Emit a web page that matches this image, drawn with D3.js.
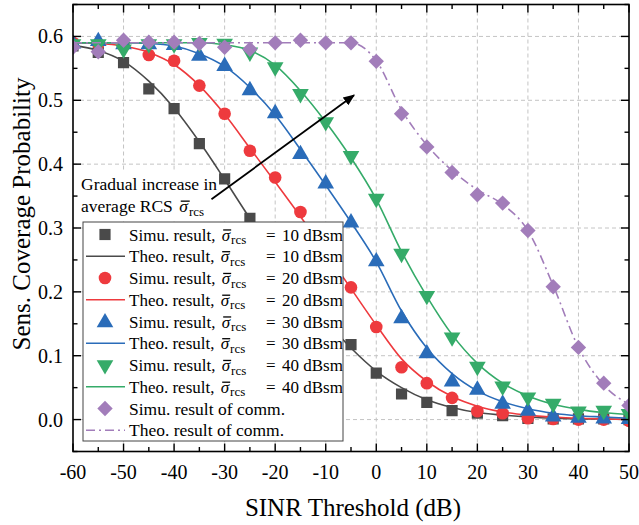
<!DOCTYPE html>
<html>
<head>
<meta charset="utf-8">
<script src="https://cdn.jsdelivr.net/npm/d3@7"></script>
<style>
  html, body { margin: 0; padding: 0; background: #fff; }
  svg { display: block; }
</style>
</head>
<body>
<svg id="chart" width="639" height="525" font-family="'Liberation Serif', 'Times New Roman', Times, 'DejaVu Serif', serif"></svg>
<script>
// ---------------- data ----------------
const thresholds = [-60,-55,-50,-45,-40,-35,-30,-25,-20,-15,-10,-5,0,5,10,15,20,25,30,35,40,45,50];

const simRcs10 = [0.585,0.575,0.559,0.518,0.487,0.432,0.377,0.315,0.255,0.205,0.155,0.1175,0.0726,0.040,0.027,0.014,0.010,0.006,0.002,0.001,0.001,0.001,0.000];
const theoRcs10 = [0.586,0.578,0.561,0.530,0.488,0.435,0.376,0.315,0.257,0.203,0.155,0.112,0.076,0.050,0.031,0.019,0.011,0.007,0.004,0.002,0.001,0.001,0.000];

const simRcs20 = [0.590,0.588,0.585,0.571,0.562,0.523,0.479,0.421,0.379,0.325,0.262,0.207,0.145,0.082,0.057,0.034,0.013,0.010,0.002,0.001,0.000,0.000,-0.002];
const theoRcs20 = [0.590,0.589,0.585,0.575,0.556,0.523,0.478,0.425,0.372,0.318,0.262,0.205,0.148,0.095,0.060,0.036,0.021,0.012,0.007,0.004,0.002,0.001,0.000];

const simRcs30 = [0.590,0.594,0.589,0.589,0.588,0.571,0.555,0.517,0.481,0.417,0.371,0.310,0.249,0.160,0.105,0.061,0.048,0.026,0.015,0.006,0.004,0.003,0.002];
const theoRcs30 = [0.590,0.590,0.590,0.589,0.585,0.573,0.553,0.520,0.477,0.423,0.367,0.309,0.247,0.170,0.112,0.072,0.045,0.028,0.017,0.010,0.006,0.004,0.002];

const simRcs40 = [0.588,0.588,0.580,0.588,0.588,0.590,0.589,0.575,0.552,0.510,0.466,0.413,0.346,0.260,0.194,0.129,0.083,0.052,0.035,0.025,0.013,0.014,0.009];
const theoRcs40 = [0.590,0.590,0.590,0.590,0.590,0.590,0.587,0.578,0.555,0.515,0.466,0.410,0.345,0.263,0.193,0.133,0.088,0.057,0.037,0.024,0.016,0.011,0.008];

const simComm = [0.583,0.576,0.594,0.591,0.591,0.589,0.583,0.580,0.590,0.594,0.590,0.590,0.561,0.479,0.427,0.387,0.352,0.339,0.296,0.208,0.113,0.057,0.022];
const theoComm = [0.590,0.590,0.590,0.590,0.590,0.590,0.590,0.590,0.590,0.590,0.590,0.590,0.562,0.485,0.430,0.390,0.360,0.337,0.296,0.210,0.113,0.054,0.024];

const xTicks = [-60,-50,-40,-30,-20,-10,0,10,20,30,40,50];
const yTicks = [0.0,0.1,0.2,0.3,0.4,0.5,0.6];
const rcsLabels = ["10","20","30","40"];

const xLabel = "SINR Threshold (dB)";
const yLabel = "Sens. Coverage Probability";
const annotLines = ["Gradual increase in", "average RCS "];
// arrow in data coordinates [x, y]
const arrowFrom = [-32.6, 0.345];
const arrowTo = [-4.4, 0.508];

// ---------------- layout ----------------
const svg = d3.select("#chart");
const M = {left: 73, top: 4.5, right: 10, bottom: 73.5};
const W = 639 - M.left - M.right;   // 556
const H = 525 - M.top - M.bottom;   // 447

const x = d3.scaleLinear().domain([-60, 50]).range([M.left, M.left + W]);
const y = d3.scaleLinear().domain([-0.05, 0.65]).range([M.top + H, M.top]);

const colors = {
  k: "#4a4a4a", r: "#ee3a3e", b: "#2a6cb9", g: "#35ab69", p: "#a27dba"
};

// grid
const grid = svg.append("g");
grid.selectAll(".gx").data(xTicks.slice(1, -1)).join("line")
  .attr("x1", d => x(d)).attr("x2", d => x(d))
  .attr("y1", M.top).attr("y2", M.top + H)
  .attr("stroke", "#c4c4c4").attr("stroke-width", 1).attr("stroke-dasharray", "4,3");
grid.selectAll(".gy").data(yTicks).join("line")
  .attr("y1", d => y(d)).attr("y2", d => y(d))
  .attr("x1", M.left).attr("x2", M.left + W)
  .attr("stroke", "#c4c4c4").attr("stroke-width", 1).attr("stroke-dasharray", "4,3");

const bars = [];
function sigmaRcs(textSel, fs) {
  textSel.append("tspan").attr("font-style", "italic").attr("class", "sig").attr("dx", 2).text("σ");
  textSel.append("tspan").attr("font-size", Math.round(fs * 0.74)).attr("dx", 1).attr("dy", 3.5).text("rcs");
  bars.push({t: textSel, fs});
}

// annotation background + text
const annot = svg.append("g");
annot.append("rect").attr("x", 77).attr("y", 172).attr("width", 153).attr("height", 49).attr("fill", "#fff");
annot.append("text").attr("x", 81).attr("y", 190).attr("font-size", 17.5).text(annotLines[0]);
const t2 = annot.append("text").attr("x", 81).attr("y", 212).attr("font-size", 17.5);
t2.append("tspan").text(annotLines[1]);
sigmaRcs(t2, 17.5);

// series
const series = [
  {sim: simRcs10, theo: theoRcs10, c: colors.k, sym: "square", dash: null},
  {sim: simRcs20, theo: theoRcs20, c: colors.r, sym: "circle", dash: null},
  {sim: simRcs30, theo: theoRcs30, c: colors.b, sym: "tri", dash: null},
  {sim: simRcs40, theo: theoRcs40, c: colors.g, sym: "tridown", dash: null},
  {sim: simComm, theo: theoComm, c: colors.p, sym: "diamond", dash: "9,4,2,4"}
];

function symPath(kind) {
  if (kind === "square") return d3.symbol(d3.symbolSquare, 125)();
  if (kind === "circle") return d3.symbol(d3.symbolCircle, 125)();
  if (kind === "tri" || kind === "tridown") return d3.symbol(d3.symbolTriangle, 120)();
  return d3.symbol(d3.symbolSquare, 118)();
}
function symTransform(kind, px, py) {
  if (kind === "tridown") return `translate(${px},${py}) rotate(180)`;
  if (kind === "diamond") return `translate(${px},${py}) rotate(45)`;
  if (kind === "tri") return `translate(${px},${py + 1})`;
  return `translate(${px},${py})`;
}

const line = d3.line().x((d, i) => x(thresholds[i])).y(d => y(d)).curve(d3.curveMonotoneX);
const plot = svg.append("g");
plot.append("clipPath").attr("id", "clip").append("rect")
  .attr("x", M.left).attr("y", M.top).attr("width", W).attr("height", H);
const plotG = plot.append("g").attr("clip-path", "url(#clip)");

series.forEach(s => {
  plotG.append("path").datum(s.theo).attr("d", line)
    .attr("fill", "none").attr("stroke", s.c).attr("stroke-width", 1.6)
    .attr("stroke-dasharray", s.dash);
  plotG.selectAll(null).data(s.sim).join("path")
    .attr("d", symPath(s.sym))
    .attr("transform", (d, i) => symTransform(s.sym, x(thresholds[i]), y(d)))
    .attr("fill", s.c);
});

// arrow
const defs = svg.append("defs");
defs.append("marker").attr("id", "ah").attr("viewBox", "0 0 10 10")
  .attr("refX", 9).attr("refY", 5).attr("markerWidth", 6.5).attr("markerHeight", 6.5)
  .attr("orient", "auto").attr("markerUnits", "strokeWidth")
  .append("path").attr("d", "M0,1 L10,5 L0,9 Z").attr("fill", "#000");
svg.append("line")
  .attr("x1", x(arrowFrom[0])).attr("y1", y(arrowFrom[1]))
  .attr("x2", x(arrowTo[0])).attr("y2", y(arrowTo[1]))
  .attr("stroke", "#000").attr("stroke-width", 1.8).attr("marker-end", "url(#ah)");

// legend
const leg = svg.append("g");
const LX = 83, LY = 222, LW = 260, LH = 219, rowH = 21.75;
leg.append("rect").attr("x", LX).attr("y", LY).attr("width", LW).attr("height", LH)
  .attr("fill", "#fff").attr("stroke", "#444").attr("stroke-width", 1);

const legRows = [];
series.forEach((s, i) => {
  legRows.push({type: "sim", s, i});
  legRows.push({type: "theo", s, i});
});
legRows.forEach((r, k) => {
  const cy = LY + 12.5 + k * rowH;
  if (r.type === "sim") {
    leg.append("path").attr("d", symPath(r.s.sym))
      .attr("transform", symTransform(r.s.sym, 105, cy)).attr("fill", r.s.c);
  } else {
    leg.append("line").attr("x1", 86).attr("x2", 125).attr("y1", cy).attr("y2", cy)
      .attr("stroke", r.s.c).attr("stroke-width", 1.6).attr("stroke-dasharray", r.s.dash);
  }
  const t = leg.append("text").attr("x", 129).attr("y", cy + 6).attr("font-size", 17);
  if (r.i < 4) {
    t.append("tspan").text(r.type === "sim" ? "Simu. result, " : "Theo. result, ");
    sigmaRcs(t, 17);
    t.append("tspan").attr("x", 266).attr("dy", -3.5).text("=");
    t.append("tspan").attr("x", 282).text(rcsLabels[r.i] + " dBsm");
  } else {
    t.attr("font-size", 17.5).text(r.type === "sim" ? "Simu. result of comm." : "Theo. result of comm.");
  }
});

// draw bars over sigma glyphs using measured positions
bars.forEach(b => {
  const node = b.t.select(".sig").node();
  const bb = node.getBBox();
  const parent = d3.select(b.t.node().parentNode);
  const base = +b.t.attr("y");
  parent.append("line")
    .attr("x1", bb.x + 1.5).attr("x2", bb.x + bb.width + 0.5)
    .attr("y1", base - b.fs * 0.62).attr("y2", base - b.fs * 0.62)
    .attr("stroke", "#000").attr("stroke-width", 1.3);
});

// frame & ticks
const frame = svg.append("g");
frame.append("rect").attr("x", M.left).attr("y", M.top).attr("width", W).attr("height", H)
  .attr("fill", "none").attr("stroke", "#000").attr("stroke-width", 1.6);

const xMinor = thresholds.filter(v => !xTicks.includes(v));
const yMinor = [-0.05, 0.05, 0.15, 0.25, 0.35, 0.45, 0.55, 0.65];
const tk = frame.append("g").attr("stroke", "#000").attr("stroke-width", 1.4);
xTicks.concat(xMinor).forEach(v => {
  const L = xTicks.includes(v) ? 8 : 4.5;
  tk.append("line").attr("x1", x(v)).attr("x2", x(v)).attr("y1", M.top + H).attr("y2", M.top + H - L);
  tk.append("line").attr("x1", x(v)).attr("x2", x(v)).attr("y1", M.top).attr("y2", M.top + L);
});
yTicks.concat(yMinor).forEach(v => {
  const L = yTicks.includes(v) ? 8 : 4.5;
  tk.append("line").attr("y1", y(v)).attr("y2", y(v)).attr("x1", M.left).attr("x2", M.left + L);
  tk.append("line").attr("y1", y(v)).attr("y2", y(v)).attr("x1", M.left + W).attr("x2", M.left + W - L);
});

svg.append("g").selectAll("text").data(xTicks).join("text")
  .attr("x", d => x(d)).attr("y", 478.5).attr("text-anchor", "middle").attr("font-size", 20)
  .text(d => String(d));
svg.append("g").selectAll("text").data(yTicks).join("text")
  .attr("x", 63).attr("y", d => y(d) + 7).attr("text-anchor", "end").attr("font-size", 20)
  .text(d => d3.format(".1f")(d));

svg.append("text").attr("x", 353).attr("y", 516).attr("text-anchor", "middle")
  .attr("font-size", 25).text(xLabel);
svg.append("text").attr("transform", `translate(30,214) rotate(-90)`)
  .attr("text-anchor", "middle").attr("font-size", 25).text(yLabel);
</script>
</body>
</html>
